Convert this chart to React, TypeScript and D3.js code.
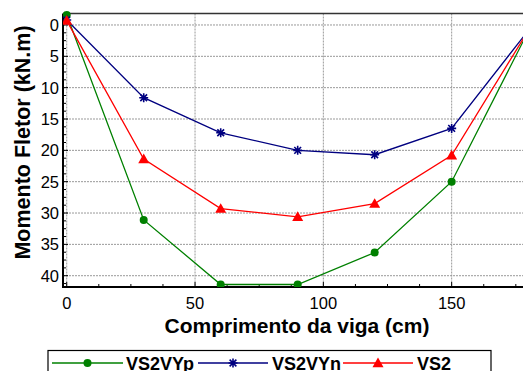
import React, { useEffect, useRef } from "react";
import * as d3 from "d3";

const xValues = [0, 30, 60, 90, 120, 150, 180];
const vs2vyp = [-1.6, 31.1, 41.4, 41.4, 36.3, 25.0, 0.9];
const vs2vyn = [-0.8, 11.6, 17.2, 20.0, 20.7, 16.5, 0.8];
const vs2 = [-0.7, 21.4, 29.3, 30.6, 28.5, 20.8, 0.8];
const xTicks = [0, 50, 100, 150];
const yTicks = [0, 5, 10, 15, 20, 25, 30, 35, 40];
const seriesNames = ["VS2VYp", "VS2VYn", "VS2"];

const W = 523, H = 371;
const L = 63, T = 13.5, R = 523, B = 287;

export default function App() {
  const ref = useRef<SVGSVGElement>(null);
  useEffect(() => {
    const svg = d3.select(ref.current);
    svg.selectAll("*").remove();
    const x = d3.scaleLinear().domain([-1.45, 177.8]).range([L, R]);
    const y = d3.scaleLinear().domain([-1.83, 41.8]).range([T, B]);
    const font = "Liberation Sans, Arial, sans-serif";

    svg.append("defs").append("clipPath").attr("id", "pc")
      .append("rect").attr("x", L).attr("y", T - 6).attr("width", R - L + 10).attr("height", B - T + 6);

    // grid
    const g = svg.append("g");
    xTicks.forEach(t => g.append("line").attr("x1", x(t)).attr("x2", x(t)).attr("y1", T).attr("y2", B)
      .attr("stroke", "#999").attr("stroke-dasharray", "2,1").attr("stroke-width", 1));
    yTicks.forEach(t => g.append("line").attr("x1", L).attr("x2", R).attr("y1", y(t)).attr("y2", y(t))
      .attr("stroke", "#999").attr("stroke-dasharray", "2,1").attr("stroke-width", 1));

    // minor ticks
    for (let v = 0; v <= 177; v += 12.5) {
      const major = v % 50 === 0;
      g.append("line").attr("x1", x(v)).attr("x2", x(v)).attr("y1", B).attr("y2", B - (major ? 5 : 3))
        .attr("stroke", "#000").attr("stroke-width", 1);
    }
    for (let v = 0; v <= 41.8; v += 1.25) {
      const major = v % 5 === 0;
      g.append("line").attr("x1", L).attr("x2", L + (major ? 5 : 3)).attr("y1", y(v)).attr("y2", y(v))
        .attr("stroke", "#000").attr("stroke-width", 1);
    }

    // axes frame
    g.append("line").attr("x1", L).attr("x2", R).attr("y1", T).attr("y2", T).attr("stroke", "#333").attr("stroke-width", 1.5);
    g.append("line").attr("x1", L).attr("x2", L).attr("y1", T).attr("y2", B + 1).attr("stroke", "#000").attr("stroke-width", 2);
    g.append("line").attr("x1", L - 1).attr("x2", R).attr("y1", B).attr("y2", B).attr("stroke", "#000").attr("stroke-width", 2);

    // tick labels
    xTicks.forEach(t => g.append("text").attr("x", x(t)).attr("y", B + 22).attr("text-anchor", "middle")
      .attr("font-family", font).attr("font-size", 16.5).text(String(t)));
    yTicks.forEach(t => g.append("text").attr("x", L - 4).attr("y", y(t) + 6).attr("text-anchor", "end")
      .attr("font-family", font).attr("font-size", 16.5).text(String(t)));

    // titles
    g.append("text").attr("x", 297).attr("y", 333).attr("text-anchor", "middle").attr("font-family", font)
      .attr("font-weight", "bold").attr("font-size", 21).text("Comprimento da viga (cm)");
    g.append("text").attr("transform", `translate(30,142.5) rotate(-90)`).attr("text-anchor", "middle")
      .attr("font-family", font).attr("font-weight", "bold").attr("font-size", 21.5).text("Momento Fletor (kN.m)");

    const colors = ["#008000", "#000080", "#ff0000"];
    const data = [vs2vyp, vs2vyn, vs2];
    const line = d3.line<number>().x((_, i) => x(xValues[i])).y(d => y(d));
    const plot = svg.append("g").attr("clip-path", "url(#pc)");

    const drawMarker = (sel: any, kind: number, cx: number, cy: number, c: string) => {
      if (kind === 0) {
        sel.append("circle").attr("cx", cx).attr("cy", cy).attr("r", 4).attr("fill", c);
      } else if (kind === 1) {
        const s = 4.5;
        const p = `M${cx - s},${cy}L${cx + s},${cy}M${cx},${cy - s}L${cx},${cy + s}M${cx - s * 0.75},${cy - s * 0.75}L${cx + s * 0.75},${cy + s * 0.75}M${cx - s * 0.75},${cy + s * 0.75}L${cx + s * 0.75},${cy - s * 0.75}`;
        sel.append("path").attr("d", p).attr("stroke", c).attr("stroke-width", 1.6).attr("fill", "none");
      } else {
        const s = 5.5;
        sel.append("path").attr("d", `M${cx},${cy - s}L${cx + s},${cy + s * 0.75}L${cx - s},${cy + s * 0.75}Z`).attr("fill", c);
      }
    };

    data.forEach((d, k) => {
      plot.append("path").attr("d", line(d) as string).attr("fill", "none").attr("stroke", colors[k]).attr("stroke-width", 1.3);
    });
    data.forEach((d, k) => {
      d.forEach((v, i) => drawMarker(plot, k, x(xValues[i]), y(v), colors[k]));
    });

    // legend
    const lg = svg.append("g");
    lg.append("rect").attr("x", 48).attr("y", 350.5).attr("width", 443).attr("height", 30).attr("fill", "#fff").attr("stroke", "#000").attr("stroke-width", 1.2);
    const items = [
      { x1: 52, x2: 123, tx: 126 },
      { x1: 198, x2: 268, tx: 272 },
      { x1: 343, x2: 413, tx: 417 },
    ];
    items.forEach((it, k) => {
      const cy = 363;
      lg.append("line").attr("x1", it.x1).attr("x2", it.x2).attr("y1", cy).attr("y2", cy).attr("stroke", colors[k]).attr("stroke-width", 1.3);
      drawMarker(lg, k, (it.x1 + it.x2) / 2, cy, colors[k]);
      lg.append("text").attr("x", it.tx).attr("y", cy + 6.5).attr("font-family", font).attr("font-weight", "bold")
        .attr("font-size", 18).text(seriesNames[k]);
    });
  }, []);
  return (
    <svg ref={ref} width={W} height={H} style={{ position: "absolute", left: 0, top: 0, background: "#fff" }} />
  );
}
